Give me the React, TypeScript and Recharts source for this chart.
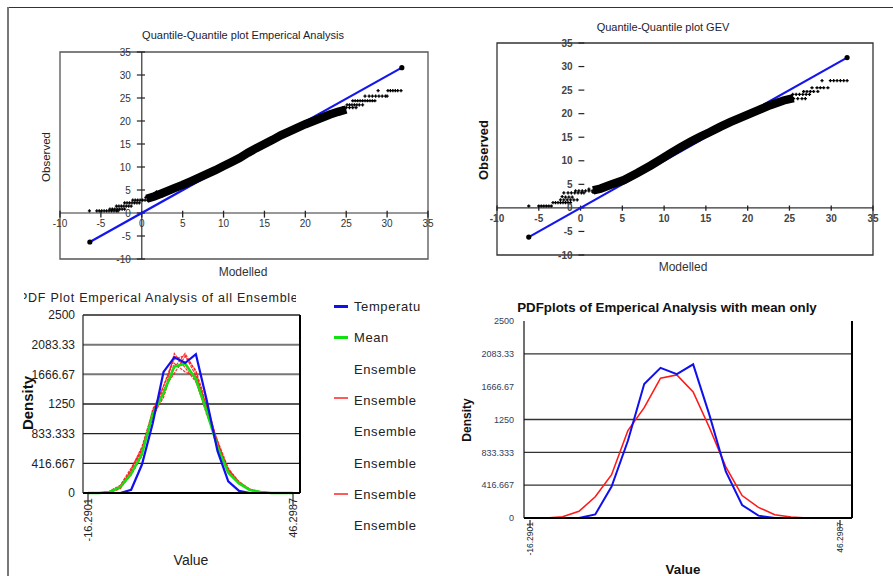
import React from 'react';
import {
  ComposedChart,
  LineChart,
  Line,
  Scatter,
  XAxis,
  YAxis,
  ReferenceLine,
  ReferenceDot,
  ReferenceArea,
} from 'recharts';

const FONT = '"Liberation Sans", Arial, Helvetica, sans-serif';

// ---------------- Q-Q plot data ----------------
const qqTicks = [-10, -5, 0, 5, 10, 15, 20, 25, 30, 35];

// Empirical analysis Q-Q
const empDiagonal: [number, number][] = [[-6.35, -6.3], [31.8, 31.6]];
const empBand: [number, number][] = [
  [0.6, 3.1], [1.5, 3.6], [2.5, 4.3], [4, 5.4], [5, 6.1], [6, 6.9], [7, 7.7], [8, 8.5], [9, 9.3],
  [10, 10.2], [11, 11.1], [12, 12.0], [13, 13.1], [14, 14.1], [15, 15.0], [16, 15.9], [17, 16.9],
  [18, 17.7], [19, 18.5], [20, 19.3], [21, 20.0], [22, 20.7], [23, 21.4], [24, 22.0], [25, 22.5],
];
const empPoints: [number, number][] = [
  [-6.4, 0.45], [-5.5, 0.45], [-5.2, 0.45], [-4.9, 0.45], [-4.6, 0.45], [-4.3, 0.45], [-4.0, 0.45], [-3.7, 0.45], [-3.4, 0.45], [-3.1, 0.45], [-2.9, 0.45],
  [-3.9, 0.85], [-3.6, 0.85], [-3.3, 0.85], [-3.0, 0.85], [-2.7, 0.85], [-2.4, 0.85], [-2.1, 0.85],
  [-3.1, 1.5], [-2.8, 1.5], [-2.5, 1.5], [-2.2, 1.5], [-1.9, 1.5], [-1.6, 1.5], [-1.3, 1.5],
  [-2.1, 2.2], [-1.8, 2.2], [-1.5, 2.2], [-1.2, 2.2], [-0.9, 2.2], [-0.6, 2.2], [-0.3, 2.2],
  [-1.1, 2.8], [-0.8, 2.8], [-0.5, 2.8], [-0.2, 2.8], [0.1, 2.8], [0.4, 2.8], [0.7, 2.8], [1.0, 2.8],
  [0.5, 3.4], [1.0, 3.7], [1.5, 3.2], [2.0, 4.3], [2.5, 3.7], [3.0, 4.4], [1.8, 4.6], [2.8, 5.0], [3.6, 4.6], [4.2, 5.6],
  [24.6, 22.9], [25.0, 22.9], [25.4, 22.9], [25.8, 22.9], [26.2, 22.9],
  [25.1, 23.5], [25.4, 23.5], [25.7, 23.5], [26.0, 23.5], [26.3, 23.5], [26.6, 23.5], [27.0, 23.5],
  [25.8, 24.4], [26.1, 24.4], [26.4, 24.4], [26.7, 24.4], [27.0, 24.4], [27.3, 24.4], [27.6, 24.4], [27.9, 24.4], [28.2, 24.4], [28.5, 24.4],
  [27.3, 25.4], [27.8, 25.4], [28.2, 25.4], [28.6, 25.4], [29.0, 25.4], [29.4, 25.4], [29.8, 25.4], [30.0, 25.4],
  [28.9, 26.6], [30.1, 26.6], [30.4, 26.6], [30.7, 26.6], [31.0, 26.6], [31.3, 26.6], [31.7, 26.6],
];

// GEV Q-Q
const gevDiagonal: [number, number][] = [[-6.2, -6.2], [31.9, 31.9]];
const gevBand: [number, number][] = [
  [1.5, 3.7], [2.4, 4.1], [3.6, 4.9], [5.2, 5.9], [6.8, 7.4], [8.4, 9.0], [9.6, 10.3], [10.8, 11.6],
  [12, 12.9], [13.1, 14.0], [14.3, 15.1], [15.5, 16.1], [16.7, 17.2], [17.9, 18.2], [19.1, 19.1],
  [20.3, 20.0], [21.5, 20.9], [22.7, 21.8], [24.3, 22.8], [25.5, 23.3],
];
const gevPoints: [number, number][] = [
  [-6.2, 0.4], [-5.0, 0.4], [-4.7, 0.4], [-4.4, 0.4], [-4.1, 0.4], [-3.8, 0.4], [-3.5, 0.4],
  [-3.3, 1.1], [-3.0, 1.1], [-2.7, 1.1], [-2.4, 1.1], [-2.1, 1.1], [-1.8, 1.1], [-1.5, 1.1], [-1.2, 1.1],
  [-2.4, 1.7], [-2.0, 1.7], [-1.6, 1.7], [-1.2, 1.7], [-0.8, 1.7], [-0.4, 1.7],
  [-2.2, 2.4], [-1.8, 2.3], [-1.4, 2.3], [-1.0, 2.3],
  [-2.0, 3.2], [-1.5, 3.2], [-1.1, 3.2], [-0.7, 3.2], [-0.3, 3.2], [0.1, 3.2], [0.4, 3.2],
  [-0.6, 3.6], [-0.2, 3.6], [0.2, 3.6], [0.6, 3.6], [1.0, 3.6], [1.4, 3.6], [1.8, 3.6],
  [1.0, 4.0], [2.0, 4.2], [2.6, 4.6], [3.2, 4.4], [1.5, 3.3], [3.8, 5.0], [2.2, 3.8],
  [24.5, 23.2], [25.0, 23.2], [25.5, 23.2], [26.0, 23.2], [26.5, 23.2], [26.9, 23.2],
  [25.4, 24.1], [25.8, 24.1], [26.2, 24.1], [26.6, 24.1], [27.0, 24.1], [27.4, 24.1],
  [26.7, 24.7], [27.1, 24.7], [27.5, 24.7], [27.9, 24.7], [28.4, 24.7],
  [27.7, 25.5], [28.3, 25.5], [28.7, 25.5], [29.1, 25.5], [29.6, 25.5],
  [28.9, 27.0], [29.9, 27.0], [30.3, 27.0], [30.7, 27.0], [31.1, 27.0], [31.5, 27.0], [31.9, 27.0],
];

// ---------------- PDF data ----------------
const valueCats = [
  '-16.2901', '-12.996', '-9.7018', '-6.4077', '-3.1135', '0.1806', '3.4748', '6.7689', '10.0631', '13.3572',
  '16.6514', '19.9455', '23.2397', '26.5338', '29.828', '33.1221', '36.4163', '39.7104', '43.0046', '46.2987',
];
const temperature = [0, 0, 0, 0, 45, 400, 980, 1700, 1905, 1825, 1950, 1305, 590, 165, 30, 0, 0, 0, 0, 0];
const meanDensity = [0, 0, 15, 84, 270, 550, 1110, 1400, 1775, 1815, 1600, 1145, 650, 285, 135, 42, 13, 0, 0, 0];
const ensemble1 = [0, 0, 10, 70, 330, 650, 1150, 1500, 1880, 1930, 1650, 1200, 700, 330, 160, 55, 15, 0, 0, 0];
const ensemble2 = [0, 0, 25, 110, 350, 620, 1060, 1380, 1960, 1760, 1560, 1150, 740, 350, 150, 50, 12, 0, 0, 0];
const ensemble3 = [0, 0, 12, 85, 250, 520, 1180, 1450, 1680, 1920, 1720, 1250, 720, 300, 130, 42, 12, 0, 0, 0];
const ensemble4 = [0, 0, 20, 100, 300, 600, 1090, 1340, 1820, 1700, 1640, 1220, 660, 330, 140, 40, 14, 0, 0, 0];
const ensemble5 = [0, 0, 8, 60, 280, 560, 1140, 1500, 1920, 1840, 1580, 1100, 720, 300, 155, 50, 16, 0, 0, 0];
const ensemble6 = [0, 0, 15, 95, 320, 610, 1150, 1420, 1760, 1960, 1700, 1190, 640, 310, 135, 46, 11, 0, 0, 0];
const ensembles = [ensemble1, ensemble2, ensemble3, ensemble4, ensemble5, ensemble6];

const densityTicks = [0, 416.667, 833.333, 1250, 1666.67, 2083.33, 2500];
const densityTickLabels = ['0', '416.667', '833.333', '1250', '1666.67', '2083.33', '2500'];
const edgeCats = [valueCats[0], valueCats[valueCats.length - 1]];
const legendNames = ['Temperature', 'Mean', 'Ensemble', 'Ensemble', 'Ensemble', 'Ensemble', 'Ensemble', 'Ensemble'];
const panel4Grid = [416.667, 833.333, 1250, 2083.33];

const pdfRows = valueCats.map((v, i) => {
  const row: Record<string, number | string> = { v, temp: temperature[i], mean: meanDensity[i] };
  ensembles.forEach((e, k) => {
    row['e' + k] = e[i];
  });
  return row;
});

const toXY = (a: [number, number][]) => a.map(([x, y]) => ({ x, y }));

const tickLabel = (v: number) => densityTickLabels[densityTicks.indexOf(v)] ?? String(v);

// ---------------- helpers ----------------
const Txt = ({ x, y, size, weight = 400, rotate = false, color = '#222', spacing = 0, children }: any) => (
  <div
    style={{
      position: 'absolute',
      left: x,
      top: y,
      transform: `translate(-50%,-50%)${rotate ? ' rotate(-90deg)' : ''}`,
      whiteSpace: 'nowrap',
      fontSize: size,
      fontWeight: weight,
      fontFamily: FONT,
      color,
      lineHeight: 1,
      letterSpacing: spacing,
    }}
  >
    {children}
  </div>
);

const Plus = (p: any) => {
  if (p.cx == null || p.cy == null) return <g />;
  return (
    <path
      d={`M${p.cx - 1.6},${p.cy}h3.2M${p.cx},${p.cy - 1.6}v3.2`}
      stroke="#000"
      strokeWidth={1.3}
      fill="none"
    />
  );
};

const RotTick = (props: any) => {
  const { x, y, payload, fs, color, mark } = props;
  return (
    <g>
      {mark ? <line x1={x} y1={y - mark[0]} x2={x} y2={y + mark[1]} stroke="#000" strokeWidth={1} /> : null}
      <text
        x={x}
        y={y}
        transform={`rotate(-90 ${x} ${y})`}
        textAnchor="end"
        dominantBaseline="central"
        fontSize={fs}
        fontFamily={FONT}
        fill={color}
      >
        {payload.value}
      </text>
    </g>
  );
};

// ---------------- Q-Q chart ----------------
const QQChart = ({
  width,
  height,
  margin,
  diagonal,
  band,
  points,
  showVAxis,
  yLabelOffset,
  ySeg,
  xSeg,
  tickFont,
  tickColor,
  tickWeight,
  boxColor,
}: any) => (
  <ComposedChart width={width} height={height} margin={margin}>
    <XAxis type="number" dataKey="x" domain={[-10, 35]} hide allowDataOverflow />
    <YAxis type="number" dataKey="y" domain={[-10, 35]} hide allowDataOverflow />
    <ReferenceArea x1={-10} x2={35} y1={-10} y2={35} fill="none" stroke={boxColor} strokeWidth={1.3} fillOpacity={0} />
    <ReferenceLine y={0} stroke="#333" strokeWidth={1.2} />
    {showVAxis ? <ReferenceLine x={0} stroke="#333" strokeWidth={1.2} /> : null}
    {qqTicks.map((t) => (
      <ReferenceLine
        key={'xs' + t}
        segment={[{ x: t, y: xSeg[0] }, { x: t, y: xSeg[1] }]}
        stroke="#222"
        strokeWidth={1.3}
      />
    ))}
    {qqTicks.map((t) => (
      <ReferenceLine
        key={'ys' + t}
        segment={[{ x: ySeg[0], y: t }, { x: ySeg[1], y: t }]}
        stroke="#222"
        strokeWidth={1.2}
      />
    ))}
    {qqTicks.map((t) => (
      <ReferenceDot
        key={'xl' + t}
        x={t}
        y={0}
        r={0}
        fill="none"
        stroke="none"
        label={{ value: String(t), position: 'bottom', offset: 7, fontSize: tickFont, fill: tickColor, fontFamily: FONT, fontWeight: tickWeight }}
      />
    ))}
    {qqTicks.map((t) => (
      <ReferenceDot
        key={'yl' + t}
        x={0}
        y={t}
        r={0}
        fill="none"
        stroke="none"
        label={{ value: String(t), position: 'left', offset: yLabelOffset, fontSize: tickFont, fill: tickColor, fontFamily: FONT, fontWeight: tickWeight }}
      />
    ))}
    <Line
      data={toXY(diagonal)}
      dataKey="y"
      stroke="#1515ee"
      strokeWidth={2.2}
      dot={{ r: 1.5, fill: '#000', stroke: '#000' }}
      isAnimationActive={false}
    />
    <Line
      data={toXY(band)}
      dataKey="y"
      stroke="#000"
      strokeWidth={8.5}
      dot={false}
      isAnimationActive={false}
    />
    <Scatter data={toXY(points)} dataKey="y" fill="#000" shape={Plus} isAnimationActive={false} />
  </ComposedChart>
);

// ---------------- App ----------------
export default function App() {
  const ensembleDash = '3 1';
  return (
    <div
      style={{
        position: 'absolute',
        left: 0,
        top: 0,
        width: 893,
        height: 576,
        background: '#fff',
        overflow: 'hidden',
        fontFamily: FONT,
      }}
    >
      {/* frame */}
      <div style={{ position: 'absolute', left: 7, top: 7, width: 886, height: 0, borderTop: '1.5px solid #333' }} />
      <div style={{ position: 'absolute', left: 7, top: 7, width: 0, height: 569, borderLeft: '2px solid #777' }} />

      {/* Panel 1 */}
      <div style={{ position: 'absolute', left: 0, top: 0 }}>
        <QQChart
          width={450}
          height={285}
          margin={{ top: 52, left: 60, right: 22, bottom: 26 }}
          diagonal={empDiagonal}
          band={empBand}
          points={empPoints}
          showVAxis
          yLabelOffset={11}
          ySeg={[-0.6, 0.4]}
          xSeg={[0.5, -1]}
          tickFont={10}
          tickColor="#333"
          tickWeight={400}
          boxColor="#555"
        />
      </div>
      <Txt x={243} y={35} size={11} color="#1c1c30">Quantile-Quantile plot Emperical Analysis</Txt>
      <Txt x={47} y={157} size={11.5} rotate color="#222">Observed</Txt>
      <Txt x={243} y={272} size={12} color="#333">Modelled</Txt>

      {/* Panel 2 */}
      <div style={{ position: 'absolute', left: 450, top: 0 }}>
        <QQChart
          width={443}
          height={285}
          margin={{ top: 43, left: 47, right: 20, bottom: 30 }}
          diagonal={gevDiagonal}
          band={gevBand}
          points={gevPoints}
          showVAxis={false}
          yLabelOffset={8}
          ySeg={[-0.25, 0.45]}
          xSeg={[0.5, -0.6]}
          tickFont={10}
          tickColor="#444"
          tickWeight={700}
          boxColor="#333"
        />
      </div>
      <Txt x={663} y={27} size={11} color="#1c1c30">Quantile-Quantile plot GEV</Txt>
      <Txt x={483} y={150} size={13} weight={700} rotate color="#111">Observed</Txt>
      <Txt x={683} y={267} size={12} color="#333">Modelled</Txt>

      {/* Panel 3 */}
      <div style={{ position: 'absolute', left: 24, top: 290, width: 272, height: 18, overflow: 'hidden' }}>
        <div
          style={{
            position: 'absolute',
            left: -5,
            top: 0,
            whiteSpace: 'nowrap',
            fontSize: 12.5,
            letterSpacing: 0.75,
            color: '#222',
            fontFamily: FONT,
            lineHeight: '16px',
          }}
        >
          PDF Plot Emperical Analysis of all Ensembles
        </div>
      </div>
      <div style={{ position: 'absolute', left: 0, top: 285 }}>
        <LineChart width={450} height={291} data={pdfRows} margin={{ top: 30, right: 100, bottom: 23, left: 0 }}>
          <XAxis
            dataKey="v"
            scale="point"
            padding={{ left: 5, right: 7 }}
            ticks={edgeCats}
            interval={0}
            height={60}
            tickSize={0}
            tickMargin={5}
            axisLine={{ stroke: '#000', strokeWidth: 2 }}
            tickLine={false}
            tick={(p: any) => <RotTick {...p} fs={11} color="#222" mark={[5, 7]} />}
          />
          <YAxis
            domain={[0, 2500]}
            ticks={densityTicks}
            width={83}
            tickSize={0}
            tickMargin={8}
            tickLine={false}
            axisLine={{ stroke: '#222', strokeWidth: 1.2 }}
            tickFormatter={tickLabel}
            tick={{ fontSize: 12, fill: '#222', fontFamily: FONT }}
          />
          <YAxis
            yAxisId="r"
            orientation="right"
            domain={[0, 2500]}
            ticks={densityTicks}
            width={50}
            tickSize={5}
            tickMargin={5}
            tickLine={{ stroke: '#000' }}
            axisLine={{ stroke: '#000', strokeWidth: 2 }}
            tickFormatter={(v: number) => tickLabel(v).slice(0, 6)}
            tick={{ fontSize: 12, fill: '#222', fontFamily: FONT, textAnchor: 'start' }}
          />
          {densityTicks.slice(1).map((t, i) => (
            <ReferenceLine
              key={'g3' + t}
              y={t}
              stroke={i >= 3 && i < 5 ? '#777' : '#222'}
              strokeWidth={i >= 3 && i < 5 ? 2 : 1.3}
            />
          ))}
          {ensembles.map((_, k) => (
            <Line
              key={'e' + k}
              dataKey={'e' + k}
              stroke="#ff1a1a"
              strokeWidth={1.2}
              strokeDasharray={ensembleDash}
              strokeOpacity={0.9}
              dot={false}
              isAnimationActive={false}
            />
          ))}
          <Line dataKey="mean" stroke="#11e011" strokeWidth={2.5} dot={false} isAnimationActive={false} />
          <Line dataKey="temp" stroke="#1010ee" strokeWidth={2.2} dot={false} isAnimationActive={false} />
        </LineChart>
      </div>
      <Txt x={27} y={403} size={15} weight={700} rotate color="#111">Density</Txt>
      <Txt x={191} y={560} size={14} color="#222">Value</Txt>

      {/* Legend panel 3 */}
      <div style={{ position: 'absolute', left: 330, top: 290, width: 91, height: 250, overflow: 'hidden' }}>
        {legendNames.map((name, i) => {
          const cy = Math.round(17 + i * 31.3);
          const marker =
            i === 0
              ? { c: '#1010ee', w: 3, dy: -1 }
              : i === 1
              ? { c: '#11e011', w: 3, dy: -1 }
              : i === 3 || i === 6
              ? { c: '#ff5a5a', w: 2, dy: i === 3 ? -3 : -1 }
              : null;
          return (
            <React.Fragment key={'lg' + i}>
              {marker ? (
                <div
                  style={{
                    position: 'absolute',
                    left: 4,
                    top: cy + marker.dy - Math.floor(marker.w / 2),
                    width: 14,
                    height: marker.w,
                    background: marker.c,
                  }}
                />
              ) : null}
              <div
                style={{
                  position: 'absolute',
                  left: 24,
                  top: cy - 8,
                  fontSize: 13,
                  letterSpacing: 0.6,
                  color: '#222',
                  lineHeight: '16px',
                  whiteSpace: 'nowrap',
                  fontFamily: FONT,
                }}
              >
                {name}
              </div>
            </React.Fragment>
          );
        })}
      </div>

      {/* Panel 4 */}
      <div style={{ position: 'absolute', left: 450, top: 285 }}>
        <LineChart width={443} height={291} data={pdfRows} margin={{ top: 36, right: 0, bottom: 23, left: 0 }}>
          <XAxis
            dataKey="v"
            scale="point"
            padding={{ left: 6, right: 12 }}
            ticks={edgeCats}
            interval={0}
            height={35}
            tickSize={0}
            tickMargin={4}
            axisLine={{ stroke: '#000', strokeWidth: 2 }}
            tickLine={false}
            tick={(p: any) => <RotTick {...p} fs={8.5} color="#222" mark={[2, 6]} />}
          />
          <YAxis
            domain={[0, 2500]}
            ticks={densityTicks}
            width={74}
            tickSize={0}
            tickMargin={10}
            tickLine={false}
            axisLine={{ stroke: '#111', strokeWidth: 1.2 }}
            tickFormatter={tickLabel}
            tick={{ fontSize: 9, fill: '#34405e', fontFamily: FONT }}
          />
          <YAxis
            yAxisId="r"
            orientation="right"
            domain={[0, 2500]}
            ticks={densityTicks}
            width={41}
            tickSize={0}
            tickMargin={8}
            tickLine={false}
            axisLine={{ stroke: '#000', strokeWidth: 2 }}
            tickFormatter={tickLabel}
            tick={{ fontSize: 9, fill: '#34405e', fontFamily: FONT, textAnchor: 'start' }}
          />
          {panel4Grid.map((t) => (
            <ReferenceLine key={'g4' + t} y={t} stroke="#333" strokeWidth={1.3} />
          ))}
          <Line dataKey="mean" stroke="#ff1a1a" strokeWidth={1.6} dot={false} isAnimationActive={false} />
          <Line dataKey="temp" stroke="#1010ee" strokeWidth={2} dot={false} isAnimationActive={false} />
        </LineChart>
      </div>
      <Txt x={667} y={308} size={13.3} weight={700} color="#111">PDFplots of Emperical Analysis with mean only</Txt>
      <Txt x={467} y={420} size={12} weight={700} rotate color="#111">Density</Txt>
      <Txt x={683} y={570} size={13.4} weight={700} color="#111">Value</Txt>
    </div>
  );
}
